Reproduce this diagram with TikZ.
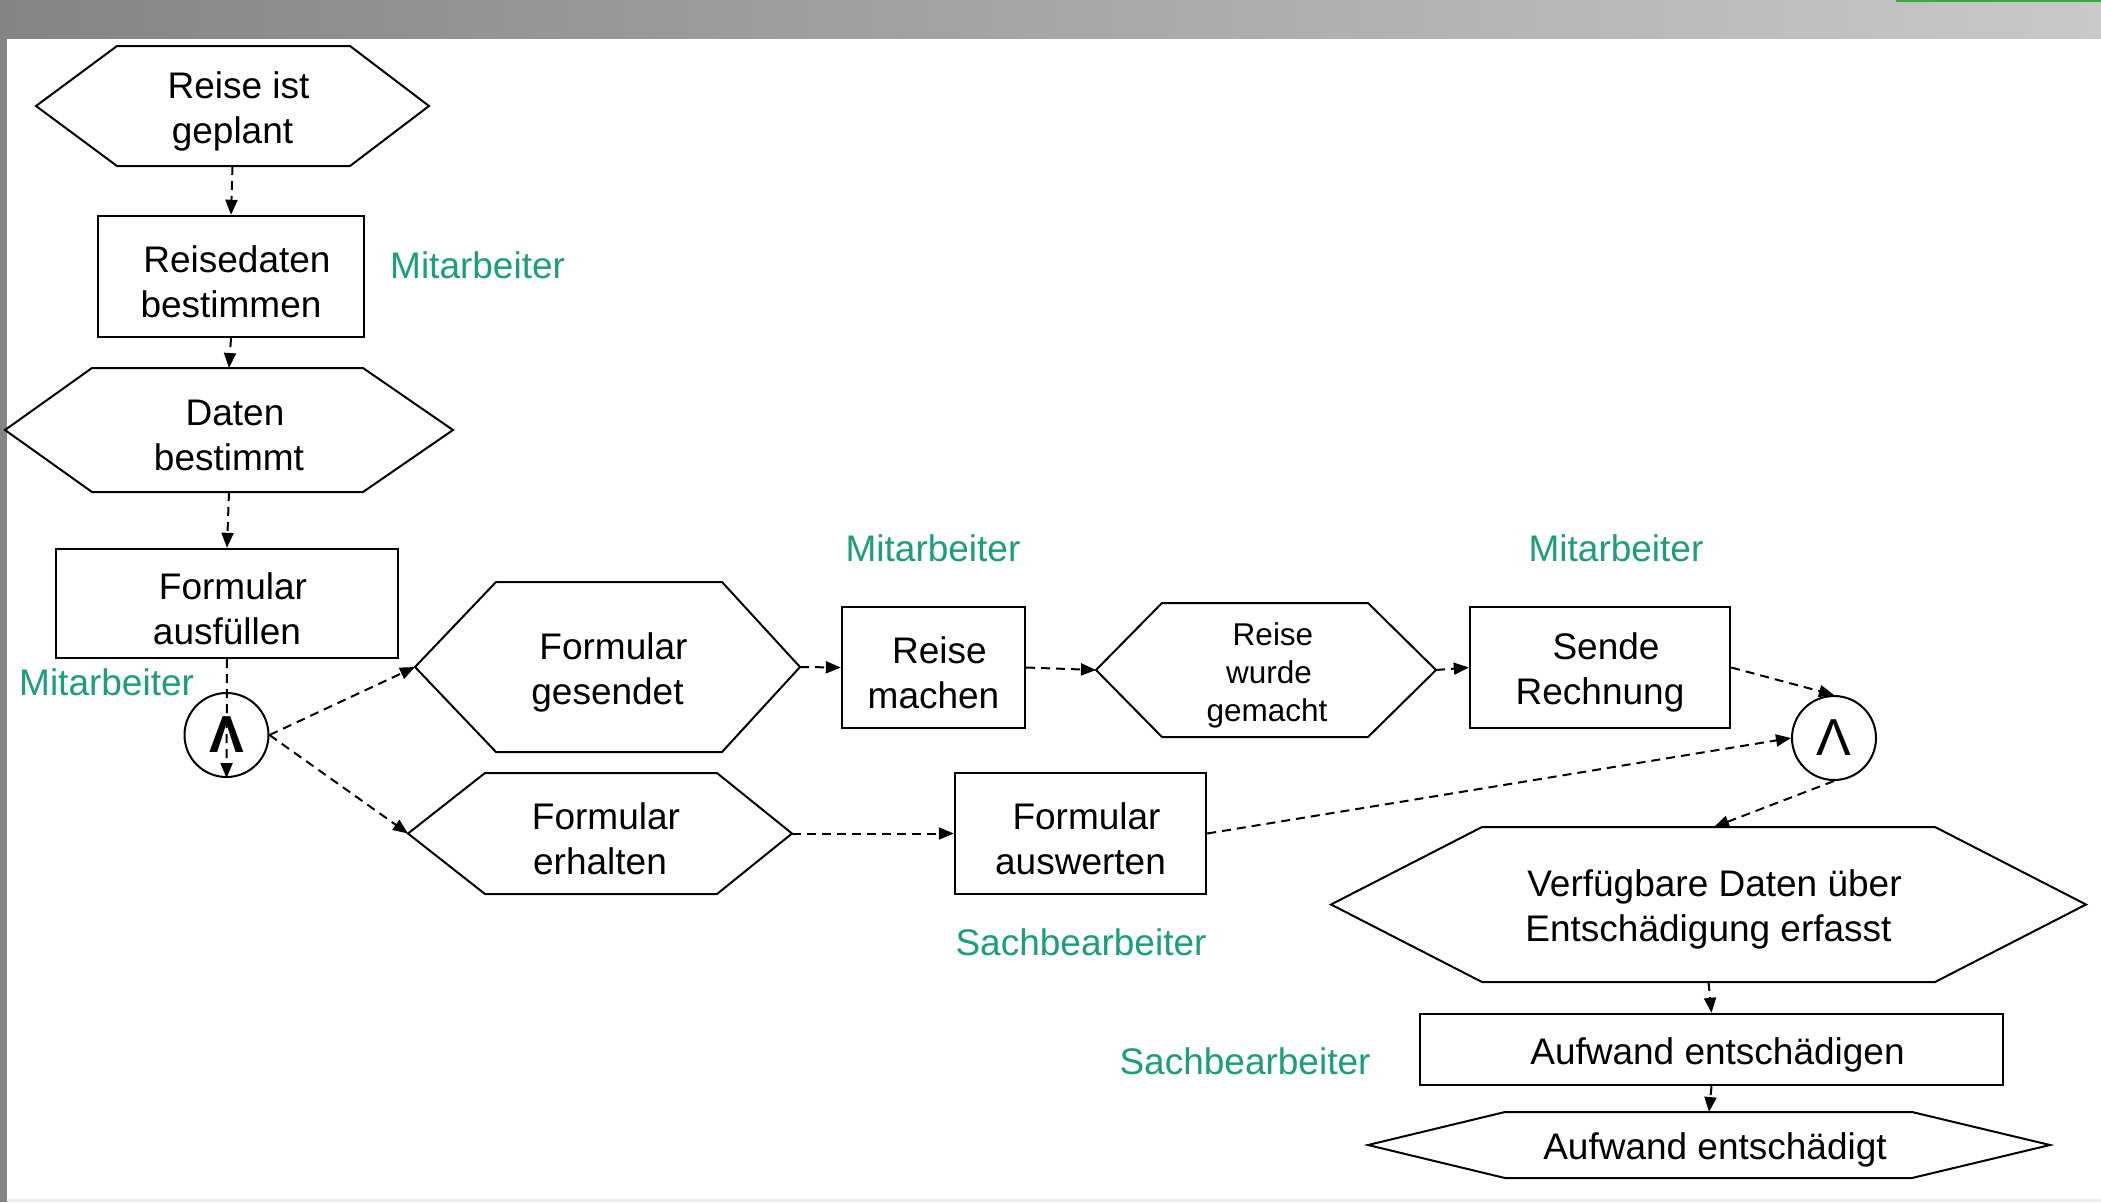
\documentclass[tikz,border=0pt]{standalone}
\usepackage{fontspec}
\setmainfont{Liberation Sans}
\usetikzlibrary{arrows.meta}
\definecolor{lblgreen}{HTML}{1B9E7D}
\definecolor{barleft}{HTML}{848484}
\definecolor{barright}{HTML}{C9C9C9}
\tikzset{
  shapeline/.style={draw=black, line width=2pt, line join=miter},
  boxnode/.style={draw=black, line width=2.4pt, inner sep=0pt},
  hextext/.style={align=center, inner sep=0pt, font=\fontsize{37}{45}\selectfont},
  lbl/.style={text=lblgreen, inner sep=0pt, font=\fontsize{37}{45}\selectfont},
  andc/.style={draw=black, line width=2pt, circle, minimum size=84pt, inner sep=0pt,
    font=\fontsize{52}{52}\selectfont},
  conn/.style={draw=black, line width=2pt, dash pattern=on 9pt off 6pt,
    -{Triangle[length=15pt,width=12pt]}},
}
\newcommand\ind{\hspace*{12pt}}
% name, x1,x2,x3,x4, ytop, ybot, text
\newcommand\hexnode[8]{%
  \draw[shapeline] (#2,{(#6+#7)/2}) -- (#3,#6) -- (#4,#6) -- (#5,{(#6+#7)/2}) -- (#4,#7) -- (#3,#7) -- cycle;
  \coordinate (#1-w) at (#2,{(#6+#7)/2});
  \coordinate (#1-e) at (#5,{(#6+#7)/2});
  \coordinate (#1-n) at ({(#2+#5)/2},#6);
  \coordinate (#1-s) at ({(#2+#5)/2},#7);
  \node[hextext] (#1) at ({(#2+#5)/2},{(#6+#7)/2+5}) {#8};
}
% name, cx, cy, w, h, text
\newcommand\boxnode[6]{%
  \node[boxnode, minimum width=#4pt, minimum height=#5pt] (#1) at (#2,#3) {};
  \node[hextext] (#1-t) at (#2,#3+5) {#6};
}
\begin{document}
\begin{tikzpicture}[x=1pt,y=-1pt]
\useasboundingbox (0,0) rectangle (2101,1202);
\fill[white] (0,0) rectangle (2101,1202);
% frame
\shade[left color=barleft, right color=barright] (0,0) rectangle (2101,38);
\fill[barleft] (0,0) rectangle (7,1202);
\fill[black!6] (7,1199) rectangle (2101,1202);
\fill[green!60!black!80] (1896,0) rectangle (2101,2);

% shapes
\hexnode{h1}{36}{117}{350}{429}{46}{166}{\ind Reise ist\\geplant}
\boxnode{r2}{231}{276.5}{266}{121}{\ind Reisedaten\\bestimmen}
\node[lbl, anchor=west] (l1) at (390,265) {Mitarbeiter};
\hexnode{h3}{5}{92}{363}{453}{368}{492}{\ind Daten\\bestimmt}
\boxnode{r4}{227}{603.5}{342}{109}{\ind Formular\\ausfüllen}
\node[lbl, anchor=west] (l2) at (19,682) {Mitarbeiter};
\node[andc] (c1) at (226.5,735) {\bfseries Λ};
\hexnode{h6}{415}{496}{722}{800}{582}{752}{\ind Formular\\gesendet}
\hexnode{h7}{408}{485}{717}{792}{773}{894}{\ind Formular\\erhalten}
\boxnode{r8}{933.5}{667.5}{183}{121}{\ind Reise\\machen}
\node[lbl] (l3) at (933,548) {Mitarbeiter};
\draw[shapeline] (1096,670) -- (1162,603) -- (1368,603) -- (1436,670) -- (1368,737) -- (1162,737) -- cycle;
\coordinate (h9-w) at (1096,670);
\coordinate (h9-e) at (1436,670);
\node[hextext, font=\fontsize{31.5}{38}\selectfont] (h9) at (1267,675) {\ind Reise\\\hspace*{4pt}wurde\\gemacht};
\boxnode{r10}{1600}{667.5}{260}{121}{\ind Sende\\Rechnung}
\node[lbl] (l4) at (1616,548) {Mitarbeiter};
\node[andc] (c2) at (1834,738) {Λ};
\boxnode{r12}{1080.5}{833.5}{251}{121}{\ind Formular\\auswerten}
\node[lbl] (l5) at (1081,942) {Sachbearbeiter};
\hexnode{h13}{1331}{1482}{1935}{2086}{827}{982}{\ind Verfügbare Daten über\\Entschädigung erfasst}
\coordinate (h13-in) at (1714,827);
\boxnode{r14}{1711.5}{1049.5}{583}{71}{\ind Aufwand entschädigen}
\node[lbl] (l6) at (1245,1061) {Sachbearbeiter};
\hexnode{h15}{1368}{1505}{1912}{2050}{1112}{1178}{\ind Aufwand entschädigt}

% connectors
\draw[conn] (h1-s) -- (r2.north);
\draw[conn] (r2.south) -- (h3-n);
\draw[conn] (h3-s) -- (r4.north);
\draw[conn] (r4.south) -- (c1.south);
\draw[conn] (c1.east) -- (h6-w);
\draw[conn] (c1.east) -- (h7-w);
\draw[conn] (h6-e) -- (r8.west);
\draw[conn] (r8.east) -- (h9-w);
\draw[conn] (h9-e) -- (r10.west);
\draw[conn] (r10.east) -- (c2.north);
\draw[conn] (h7-e) -- (r12.west);
\draw[conn] (r12.east) -- (c2.west);
\draw[conn] (c2.south) -- (h13-in);
\draw[conn] (h13-s) -- (r14.north);
\draw[conn] (r14.south) -- (h15-n);
\end{tikzpicture}
\end{document}
